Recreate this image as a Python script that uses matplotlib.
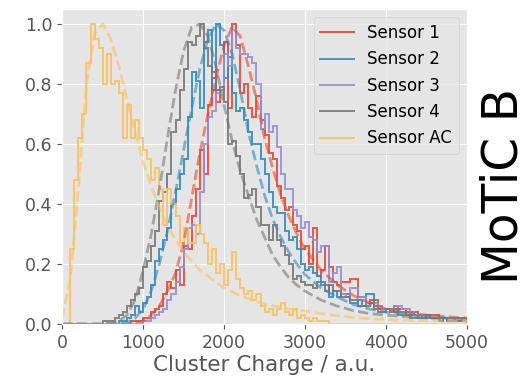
import numpy as np
import matplotlib
matplotlib.use("Agg")
import matplotlib.pyplot as plt

plt.style.use("ggplot")

# histogram bins: 0..5000 in steps of 50
bin_edges = np.arange(0, 5001, 50)

# normalised cluster charge histograms
sensor1 = [0]*17 + [
    0.01, 0.01, 0.01, 0.02, 0.02, 0.04, 0.05, 0.06, 0.10, 0.14,
    0.12, 0.18, 0.13, 0.26, 0.25, 0.36, 0.45, 0.58, 0.50, 0.73,
    0.82, 0.74, 0.78, 0.94, 0.72, 1.00, 0.93, 0.77, 0.80, 0.72,
    0.69, 0.76, 0.68, 0.63, 0.57, 0.55, 0.46, 0.42, 0.38, 0.39,
    0.33, 0.31, 0.25, 0.26, 0.20, 0.32, 0.16, 0.18, 0.26, 0.19,
    0.14, 0.13, 0.14, 0.14, 0.15, 0.15, 0.09, 0.09, 0.07, 0.08,
    0.08, 0.05, 0.05, 0.05, 0.05, 0.06, 0.05, 0.05, 0.04, 0.04,
    0.04, 0.03, 0.03, 0.03, 0.03, 0.03, 0.02, 0.02, 0.02, 0.02,
    0.02, 0.02, 0.02]
sensor2 = [0]*14 + [
    0.01, 0.01, 0.02, 0.03, 0.06, 0.04, 0.07, 0.09, 0.13, 0.21,
    0.25, 0.28, 0.32, 0.40, 0.45, 0.50, 0.55, 0.69, 0.84, 0.81,
    0.72, 0.94, 0.98, 0.78, 1.00, 0.93, 0.82, 0.89, 0.77, 0.71,
    0.72, 0.68, 0.64, 0.60, 0.60, 0.55, 0.50, 0.44, 0.39, 0.37,
    0.37, 0.31, 0.28, 0.29, 0.25, 0.20, 0.18, 0.19, 0.17, 0.16,
    0.13, 0.13, 0.09, 0.11, 0.09, 0.10, 0.10, 0.07, 0.07, 0.08,
    0.06, 0.10, 0.10, 0.06, 0.06, 0.05, 0.05, 0.05, 0.04, 0.04,
    0.04, 0.03, 0.03, 0.03, 0.02, 0.03, 0.02, 0.02, 0.02, 0.01,
    0.02, 0.01, 0.01, 0.01, 0.01, 0.01]
sensor3 = [0]*20 + [
    0.01, 0.01, 0.02, 0.03, 0.04, 0.05, 0.08, 0.10, 0.14, 0.19,
    0.25, 0.32, 0.33, 0.30, 0.44, 0.60, 0.69, 0.71, 0.77, 0.78,
    0.90, 0.86, 0.98, 0.92, 0.90, 0.90, 0.89, 0.87, 0.80, 0.65,
    0.70, 0.64, 0.66, 0.59, 0.50, 0.45, 0.45, 0.38, 0.36, 0.32,
    0.34, 0.29, 0.28, 0.24, 0.26, 0.26, 0.14, 0.17, 0.19, 0.10,
    0.09, 0.12, 0.12, 0.09, 0.09, 0.07, 0.07, 0.07, 0.06, 0.05,
    0.05, 0.05, 0.06, 0.06, 0.05, 0.05, 0.04, 0.03, 0.03, 0.03,
    0.03, 0.02, 0.02, 0.02, 0.02, 0.02, 0.02, 0.01, 0.01, 0.01]
sensor4 = [0]*10 + [
    0.01, 0.01, 0.01, 0.02, 0.03, 0.04, 0.06, 0.08, 0.10, 0.12,
    0.19, 0.21, 0.26, 0.31, 0.41, 0.44, 0.50, 0.64, 0.68, 0.78,
    0.85, 0.94, 0.93, 0.96, 1.00, 0.92, 0.86, 0.84, 0.78, 0.79,
    0.74, 0.60, 0.61, 0.56, 0.50, 0.42, 0.43, 0.45, 0.39, 0.33,
    0.33, 0.28, 0.33, 0.28, 0.26, 0.23, 0.20, 0.15, 0.16, 0.14,
    0.13, 0.13, 0.12, 0.14, 0.14, 0.11, 0.13, 0.11, 0.11, 0.09,
    0.09, 0.08, 0.08, 0.06, 0.06, 0.06, 0.07, 0.05, 0.04, 0.04,
    0.05, 0.04, 0.05, 0.03, 0.03, 0.03, 0.02, 0.02, 0.02, 0.02,
    0.03, 0.02, 0.02, 0.01, 0.02, 0.01, 0.01, 0.01, 0.01, 0.01]
sensorAC = [
    0.00, 0.00, 0.25, 0.48, 0.62, 0.70, 0.87, 1.00, 0.95, 0.92,
    0.80, 0.90, 0.80, 0.81, 0.77, 0.62, 0.73, 0.62, 0.68, 0.62,
    0.58, 0.55, 0.48, 0.52, 0.45, 0.33, 0.45, 0.40, 0.36, 0.27,
    0.32, 0.27, 0.27, 0.33, 0.30, 0.27, 0.20, 0.25, 0.17, 0.20,
    0.13, 0.18, 0.24, 0.15, 0.12, 0.10, 0.11, 0.08, 0.10, 0.06,
    0.04, 0.05, 0.03, 0.05, 0.07, 0.04, 0.03, 0.05, 0.02, 0.03,
    0.02, 0.01, 0.02, 0.01, 0.01, 0.01] + [0]*34

# fitted curves (sampled off the dashed lines)
fit_x = [0, 100, 200, 300, 400, 500, 600, 700, 800, 900, 1000, 1100, 1200,
         1300, 1400, 1500, 1600, 1700, 1800, 1900, 2000, 2100, 2200, 2300,
         2400, 2500, 2600, 2700, 2800, 2900, 3000, 3200, 3400, 3600, 3800,
         4000, 4500, 5000]
fit1 = [0, 0, 0, 0, 0, 0, 0, 0, 0, 0.005, 0.01, 0.03, 0.06, 0.11, 0.17,
        0.27, 0.42, 0.57, 0.70, 0.82, 0.93, 0.99, 0.96, 0.86, 0.75, 0.62,
        0.52, 0.43, 0.36, 0.30, 0.25, 0.18, 0.13, 0.095, 0.07, 0.05, 0.03,
        0.02]
fit2 = [0, 0, 0, 0, 0, 0, 0, 0, 0.005, 0.02, 0.05, 0.11, 0.20, 0.31, 0.44,
        0.58, 0.72, 0.85, 0.95, 1.00, 0.98, 0.90, 0.78, 0.64, 0.53, 0.43,
        0.35, 0.29, 0.24, 0.20, 0.165, 0.12, 0.09, 0.065, 0.05, 0.04, 0.025,
        0.015]
fit4 = [0, 0, 0, 0, 0, 0, 0.005, 0.01, 0.03, 0.08, 0.18, 0.30, 0.45, 0.62,
        0.78, 0.91, 0.99, 1.00, 0.96, 0.86, 0.73, 0.61, 0.51, 0.43, 0.35,
        0.29, 0.23, 0.19, 0.155, 0.13, 0.11, 0.08, 0.06, 0.045, 0.035, 0.03,
        0.02, 0.015]
fitAC = [0.02, 0.15, 0.45, 0.80, 0.97, 1.00, 0.95, 0.86, 0.75, 0.64, 0.54,
         0.46, 0.39, 0.33, 0.28, 0.24, 0.21, 0.18, 0.16, 0.14, 0.12, 0.107,
         0.095, 0.085, 0.075, 0.068, 0.062, 0.056, 0.05, 0.047, 0.044, 0.035,
         0.028, 0.022, 0.018, 0.015, 0.012, 0.01]

labels = ["Sensor 1", "Sensor 2", "Sensor 3", "Sensor 4", "Sensor AC"]
colors = ["#E24A33", "#348ABD", "#988ED5", "#777777", "#FBC15E"]

fig = plt.figure(figsize=(5.27, 3.8), dpi=100)
ax = fig.add_axes([0.118, 0.147, 0.768, 0.829])

for vals, lab, c in zip([sensor1, sensor2, sensor3, sensor4, sensorAC], labels, colors):
    ax.stairs(vals, bin_edges, color=c, lw=1.4, alpha=0.9, label=lab)

for fit, c in zip([fit1, fit2, fit4, fitAC], [colors[0], colors[1], colors[3], colors[4]]):
    ax.plot(fit_x, fit, "--", color=c, lw=2, alpha=0.6)

ax.set_xlim(0, 5000)
ax.set_ylim(0, 1.05)
ax.set_xticks([0, 1000, 2000, 3000, 4000, 5000])
ax.set_yticks([0.0, 0.2, 0.4, 0.6, 0.8, 1.0])
ax.tick_params(labelsize=12.5)
ax.set_xlabel("Cluster Charge / a.u.", fontsize=15.5, labelpad=2)
ax.legend(loc="upper right", fontsize=12)

fig.text(0.955, 0.51, "MoTiC B", rotation=90, fontsize=35,
         ha="center", va="center", color="black")

fig.savefig("out.png", dpi=100)
